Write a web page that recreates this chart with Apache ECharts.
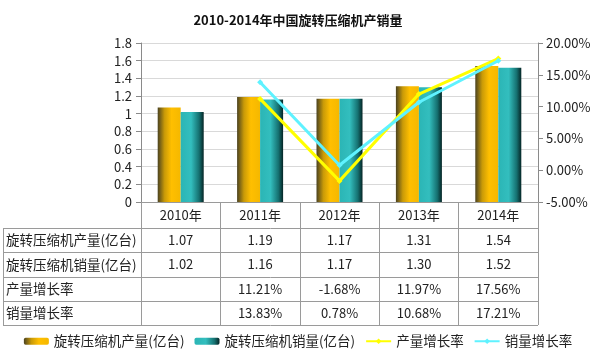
<!DOCTYPE html>
<html><head><meta charset="utf-8">
<script src="https://cdn.jsdelivr.net/npm/echarts@6/dist/echarts.min.js"></script>
<style>html,body{margin:0;padding:0;background:#fff}#c{width:596px;height:361px}</style>
</head><body><div id="c"></div>
<script>
var titleText = '2010-2014年中国旋转压缩机产销量';
var categories = ['2010年','2011年','2012年','2013年','2014年'];
var prodName = '旋转压缩机产量(亿台)';
var salesName = '旋转压缩机销量(亿台)';
var prodGrowthName = '产量增长率';
var salesGrowthName = '销量增长率';
var production = [1.07, 1.19, 1.17, 1.31, 1.54];
var sales = [1.02, 1.16, 1.17, 1.30, 1.52];
var prodGrowth = [null, 11.21, -1.68, 11.97, 17.56];
var salesGrowth = [null, 13.83, 0.78, 10.68, 17.21];
var prodText = ['1.07','1.19','1.17','1.31','1.54'];
var salesText = ['1.02','1.16','1.17','1.30','1.52'];
var prodGrowthText = ['','11.21%','-1.68%','11.97%','17.56%'];
var salesGrowthText = ['','13.83%','0.78%','10.68%','17.21%'];

var FONT = '"Noto Sans CJK SC","Liberation Sans",sans-serif';
var chart = echarts.init(document.getElementById('c'));
var gold = new echarts.graphic.LinearGradient(0,0,1,0,[
  {offset:0,color:'#4a4220'},{offset:0.3,color:'#c99a08'},{offset:0.6,color:'#ffbf00'},{offset:1,color:'#f5b800'}]);
var teal = new echarts.graphic.LinearGradient(0,0,1,0,[
  {offset:0,color:'#2bb5b5'},{offset:0.45,color:'#33bebe'},{offset:0.8,color:'#157070'},{offset:1,color:'#052525'}]);
var tableLine = '#9a9a9a';
var option = {
  animation:false,
  textStyle:{fontFamily:FONT},
  title:{text:titleText,left:'center',top:9,textStyle:{fontSize:13,fontWeight:'bold',color:'#111',fontFamily:FONT}},
  grid:{left:141,right:58,top:43,bottom:159},
  legend:{bottom:8,left:'center',itemWidth:25,itemHeight:7,itemGap:10,
    textStyle:{fontSize:13.5,color:'#222',fontFamily:FONT},
    data:[prodName,salesName,prodGrowthName,salesGrowthName]},
  xAxis:{type:'category',data:categories,
    axisLine:{lineStyle:{color:tableLine}},
    axisTick:{show:true,length:123,lineStyle:{color:tableLine}},
    axisLabel:{fontSize:13,color:'#222',margin:7,fontFamily:FONT}},
  yAxis:[{type:'value',min:0,max:1.8,interval:0.2,
    axisLine:{show:true,lineStyle:{color:'#8a8a8a'}},
    axisTick:{show:true,length:5,lineStyle:{color:'#8a8a8a'}},
    axisLabel:{fontSize:13,color:'#222',margin:9,fontFamily:FONT},
    splitLine:{lineStyle:{color:'#d9d9d9'}}},
   {type:'value',min:-5,max:20,interval:5,
    axisLine:{show:true,lineStyle:{color:'#8a8a8a'}},
    axisTick:{show:true,length:5,lineStyle:{color:'#8a8a8a'}},
    axisLabel:{fontSize:13,color:'#222',margin:8,fontFamily:FONT,formatter:function(v){return v.toFixed(2)+'%';}},
    splitLine:{show:false}}],
  series:[
    {name:prodName,type:'bar',data:production,barWidth:23,barGap:'0%',itemStyle:{color:gold}},
    {name:salesName,type:'bar',data:sales,barWidth:23,barGap:'0%',itemStyle:{color:teal}},
    {name:prodGrowthName,type:'line',yAxisIndex:1,data:prodGrowth,symbol:'diamond',symbolSize:6,
      lineStyle:{color:'#ffff00',width:3},itemStyle:{color:'#ffff00'}},
    {name:salesGrowthName,type:'line',yAxisIndex:1,data:salesGrowth,symbol:'diamond',symbolSize:6,
      lineStyle:{color:'#5ff2ff',width:3},itemStyle:{color:'#5ff2ff'}}
  ]
};
chart.setOption(option);

// data table under the chart
var rows = [[prodName,prodText],[salesName,salesText],[prodGrowthName,prodGrowthText],[salesGrowthName,salesGrowthText]];
var rowTop = 228, rowH = 24.3, tableLeft = 3;
var right = chart.getWidth() - 58;
var els = [];
for (var r=0;r<=rows.length;r++){
  var y = Math.round(rowTop + r*rowH)+0.5;
  els.push({type:'line',shape:{x1:tableLeft,y1:y,x2:right,y2:y},style:{stroke:tableLine,lineWidth:1}});
}
els.push({type:'line',shape:{x1:tableLeft+0.5,y1:rowTop,x2:tableLeft+0.5,y2:Math.round(rowTop+rows.length*rowH)},style:{stroke:tableLine,lineWidth:1}});
rows.forEach(function(row,r){
  var cy = rowTop + r*rowH + rowH/2;
  els.push({type:'text',style:{text:row[0],x:6,y:cy,verticalAlign:'middle',font:'13.5px '+FONT,fill:'#222'}});
  row[1].forEach(function(t,i){
    var cx = chart.convertToPixel({xAxisIndex:0},categories[i]);
    els.push({type:'text',style:{text:t,x:cx,y:cy,align:'center',verticalAlign:'middle',font:'13px '+FONT,fill:'#222'}});
  });
});
chart.setOption({graphic:{elements:els}});
</script></body></html>
